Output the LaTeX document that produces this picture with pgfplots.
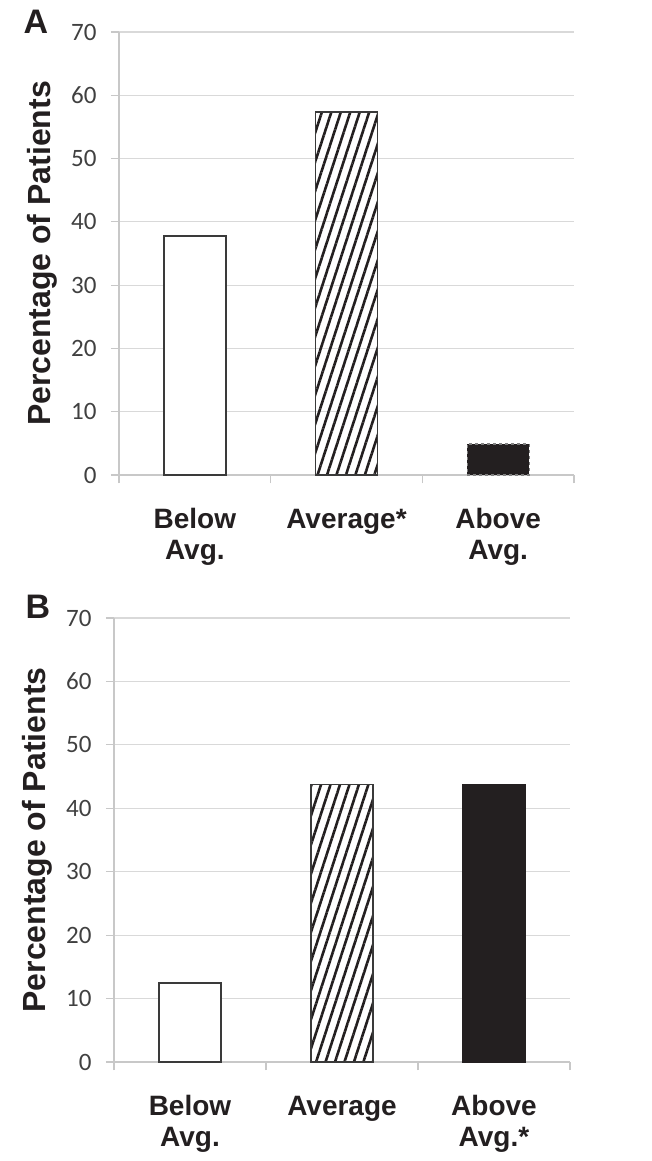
\documentclass[border=0pt]{standalone}
\usepackage{pgfplots}
\pgfplotsset{compat=1.18}
\usepackage{fontspec}
\setmainfont{Liberation Sans}
\newfontfamily\calibri{Carlito}
\usetikzlibrary{patterns.meta}
\definecolor{gridc}{HTML}{D9D9D9}
\definecolor{axc}{HTML}{C8C8C8}
\definecolor{barline}{HTML}{3A3A3A}
\definecolor{barblack}{HTML}{231F20}
\definecolor{tickc}{HTML}{404040}
\definecolor{labc}{HTML}{231F20}
\newcommand{\catlab}[1]{\parbox[t]{140pt}{\centering #1}}
\pgfplotsset{
  panel/.style={
    scale only axis,
    anchor=south west,
    clip=false,
    axis lines=left,
    axis line style={-, draw=axc, line width=1.2pt},
    xmin=0.5, xmax=3.5, ymin=0, ymax=70,
    ytick={0,10,...,70},
    xtick={1,2,3},
    minor xtick={0.5,1.5,2.5,3.5},
    tick align=outside,
    major tick length=8pt,
    minor tick length=8.5pt,
    ytick style={draw=axc, line width=1.2pt},
    xtick style={draw=none},
    minor x tick style={draw=axc, line width=1.2pt},
    ymajorgrids,
    major grid style={draw=gridc, line width=1.2pt},
    /pgf/number format/assume math mode=true,
    yticklabel style={font=\calibri\fontsize{25}{25}\selectfont, text=tickc, xshift=-11pt},
    xticklabel style={font=\bfseries\fontsize{28}{31}\selectfont, text=labc, anchor=base, yshift=-46pt},
  },
  whitebar/.style={ybar, bar shift=0pt, bar width=62pt, fill=white, draw=barline, line width=1.8pt},
  hatchbar/.style={ybar, bar shift=0pt, bar width=62pt, draw=barline, line width=1.8pt,
    pattern={Lines[angle=72, distance=9pt, line width=2.6pt]}, pattern color=barblack},
  blackbar/.style={ybar, bar shift=0pt, bar width=62pt, fill=barblack, draw=barblack, line width=1.2pt},
}
\begin{document}
\begin{tikzpicture}
\useasboundingbox (0pt,0pt) rectangle (651pt,1161pt);
% Panel A
\begin{axis}[panel, at={(119pt,686pt)}, width=455pt, height=443pt,
  xticklabels={{\catlab{Below\\Avg.}},{\catlab{Average*}},{\catlab{Above\\Avg.}}}]
\addplot[whitebar] coordinates {(1,37.8)};
\addplot[hatchbar] coordinates {(2,57.3)};
\addplot[blackbar, draw=gray, dashed] coordinates {(3,4.9)};
\node[rotate=90, anchor=center, font=\bfseries\fontsize{32}{32}\selectfont, text=labc]
  at ([xshift=-77pt]rel axis cs:0,0.5) {Percentage of Patients};
\end{axis}
% Panel B
\begin{axis}[panel, at={(114pt,99pt)}, width=456pt, height=444pt,
  xticklabels={{\catlab{Below\\Avg.}},{\catlab{Average}},{\catlab{Above\\Avg.*}}}]
\addplot[whitebar] coordinates {(1,12.5)};
\addplot[hatchbar] coordinates {(2,43.75)};
\addplot[blackbar] coordinates {(3,43.75)};
\node[rotate=90, anchor=center, font=\bfseries\fontsize{32}{32}\selectfont, text=labc]
  at ([xshift=-77pt]rel axis cs:0,0.5) {Percentage of Patients};
\end{axis}
\node[font=\bfseries\fontsize{34}{34}\selectfont, text=labc] at (36pt,1139pt) {A};
\node[font=\bfseries\fontsize{34}{34}\selectfont, text=labc] at (38pt,554pt) {B};
\end{tikzpicture}
\end{document}
